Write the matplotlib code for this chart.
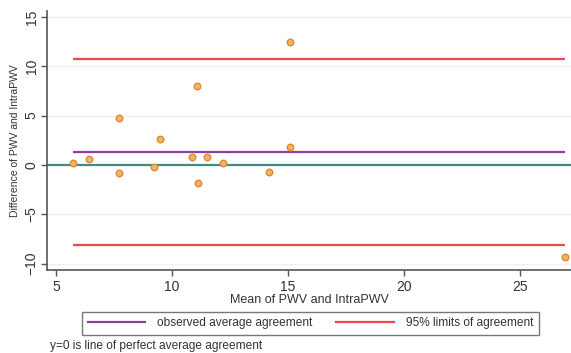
import matplotlib.pyplot as plt
from matplotlib.lines import Line2D

plt.rcParams['font.family'] = ['Liberation Sans', 'DejaVu Sans']

# Bland-Altman data
mean_pwv = [5.73, 6.42, 7.72, 7.72, 9.48, 9.22, 10.86, 11.08, 11.10, 11.50, 12.20, 14.18, 15.09, 15.09, 26.95]
diff_pwv = [0.2, 0.6, 4.77, -0.8, 2.6, -0.2, 0.8, 8.0, -1.8, 0.8, 0.2, -0.7, 12.5, 1.8, -9.3]

mean_diff = 1.3
upper_limit = 10.7
lower_limit = -8.1

x_ticks = [5, 10, 15, 20, 25]
y_ticks = [-10, -5, 0, 5, 10, 15]

red = '#e8484f'
purple = '#8e3d9e'
teal = '#3f8c80'

fig = plt.figure(figsize=(5.71, 3.53), dpi=100)
ax = fig.add_axes([0.0823, 0.235, 0.9177, 0.734])

for y in y_ticks:
    if y != 0:
        ax.axhline(y, color='#eef1f4', linewidth=1.0, zorder=0)

ax.axhline(0, color=teal, linewidth=1.6, zorder=1)

x0, x1 = min(mean_pwv), max(mean_pwv)
ax.hlines([upper_limit, lower_limit], x0, x1, color=red, linewidth=1.6, zorder=2)
ax.hlines(mean_diff, x0, x1, color=purple, linewidth=1.6, zorder=2)

ax.scatter(mean_pwv, diff_pwv, s=22, facecolor='#f2b36a', edgecolor='#df8a2c',
           linewidth=1.0, zorder=3)

ax.set_xlim(4.61, 27.2)
ax.set_ylim(-10.65, 15.6)
ax.set_xticks(x_ticks)
ax.set_yticks(y_ticks)
ax.tick_params(axis='both', direction='out', length=4, width=1, color='#555555',
               labelsize=10, labelcolor='#333333')
ax.tick_params(axis='y', labelrotation=90, pad=2)
for lab in ax.get_yticklabels():
    lab.set_va('center')
ax.tick_params(axis='x', pad=3)

for side in ['top', 'right']:
    ax.spines[side].set_visible(False)
for side in ['left', 'bottom']:
    ax.spines[side].set_color('#555555')
    ax.spines[side].set_linewidth(1.2)

ax.set_xlabel('Mean of PWV and IntraPWV', fontsize=9, color='#333333', labelpad=0)
ax.set_ylabel('Difference of PWV and IntraPWV', fontsize=7.5, color='#333333', labelpad=3)

handles = [Line2D([], [], color=purple, linewidth=1.6),
           Line2D([], [], color=red, linewidth=1.6)]
labels = ['observed average agreement', '95% limits of agreement']
leg = fig.legend(handles, labels, ncol=2, loc='center',
                 bbox_to_anchor=(0.5438, 0.0836),
                 fontsize=8.6, frameon=True, fancybox=False, edgecolor='#555555',
                 handlelength=4.8, borderpad=0.45, borderaxespad=0,
                 columnspacing=2.0, handletextpad=1.0)
leg.get_frame().set_linewidth(1.0)
for t in leg.get_texts():
    t.set_color('#333333')

fig.text(0.088, 0.01, 'y=0 is line of perfect average agreement', fontsize=8.6, color='#333333')

fig.savefig('out.png', dpi=100)
